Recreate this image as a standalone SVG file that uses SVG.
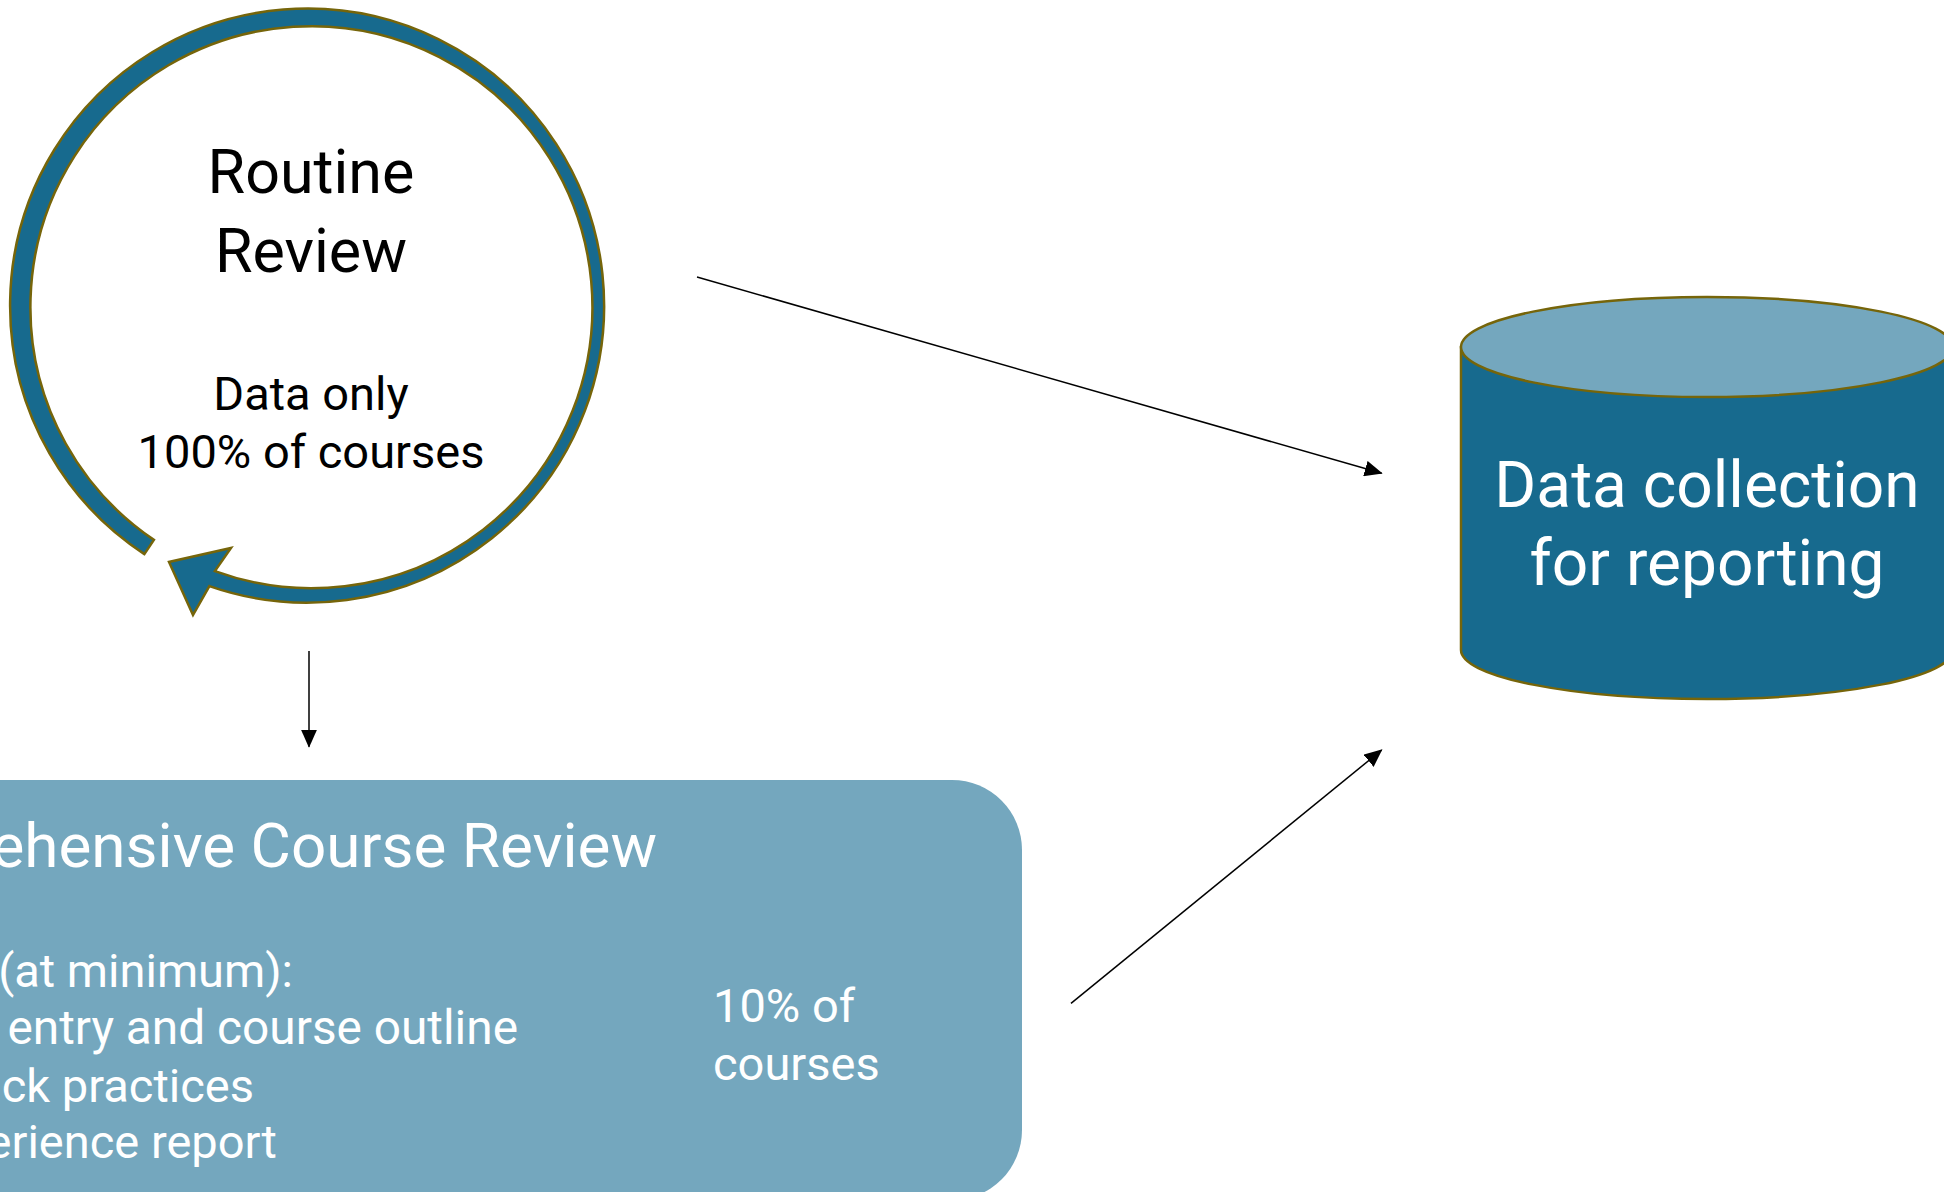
<svg xmlns="http://www.w3.org/2000/svg" width="1944" height="1192" viewBox="0 0 1944 1192">
<defs>
<style>
.txt{font-family:Roboto,"Liberation Sans",sans-serif;}
.dark{fill:#000000;}
.white{fill:#ffffff;}
.conn{stroke:#000000;stroke-width:1.5;fill:none;}
.outline{stroke:#76650A;stroke-width:2.5;}
</style>
<marker id="ah" markerUnits="userSpaceOnUse" markerWidth="18" markerHeight="16" viewBox="0 0 18 16" refX="17" refY="8" orient="auto">
<path d="M0,0 L18,8 L0,16 Z" fill="#000000"/>
</marker>
</defs>
<rect width="1944" height="1192" fill="#ffffff"/>

<g id="routine-review">
<path class="outline" fill="#176A8E" d="M144.4,554.1 A297,297 0 1 1 209.4,586.1 L193,615 L169,562 L231,548 L214.9,571.1 A281,281 0 1 0 153.9,539.9 Z"/>
<text class="txt dark" x="311" y="193" font-size="61" text-anchor="middle">Routine</text>
<text class="txt dark" x="311" y="272" font-size="61" text-anchor="middle">Review</text>
<text class="txt dark" x="311" y="410" font-size="47" text-anchor="middle">Data only</text>
<text class="txt dark" x="311" y="468" font-size="47" text-anchor="middle">100% of courses</text>
</g>

<g id="comprehensive-review">
<rect x="-100" y="780" width="1122" height="420" rx="70" ry="70" fill="#74A7BE"/>
<text class="txt white" x="657" y="867" font-size="62" text-anchor="end">ehensive Course Review</text>
<text class="txt white" x="293" y="987" font-size="47" text-anchor="end">(at minimum):</text>
<text class="txt white" x="518" y="1044" font-size="47.8" text-anchor="end">entry and course outline</text>
<text class="txt white" x="254" y="1102" font-size="47" text-anchor="end">ck practices</text>
<text class="txt white" x="277" y="1158" font-size="47" text-anchor="end">erience report</text>
<text class="txt white" x="713" y="1022" font-size="47">10% of</text>
<text class="txt white" x="713" y="1080" font-size="47">courses</text>
</g>

<g id="data-collection">
<path class="outline" fill="#176A8E" d="M1461,347 L1461,650 A246,49 0 0 0 1953,650 L1953,347 Z"/>
<ellipse class="outline" cx="1707" cy="347" rx="246" ry="50" fill="#74A7BE"/>
<text class="txt white" x="1707" y="507" font-size="64" text-anchor="middle">Data collection</text>
<text class="txt white" x="1707" y="585" font-size="64" text-anchor="middle">for reporting</text>
</g>

<g id="connectors">
<line class="conn" x1="697" y1="277" x2="1381.7" y2="473.3" marker-end="url(#ah)"/>
<line class="conn" x1="309" y1="651" x2="309" y2="746.7" marker-end="url(#ah)"/>
<line class="conn" x1="1071" y1="1003.3" x2="1381.7" y2="750" marker-end="url(#ah)"/>
</g>
</svg>
